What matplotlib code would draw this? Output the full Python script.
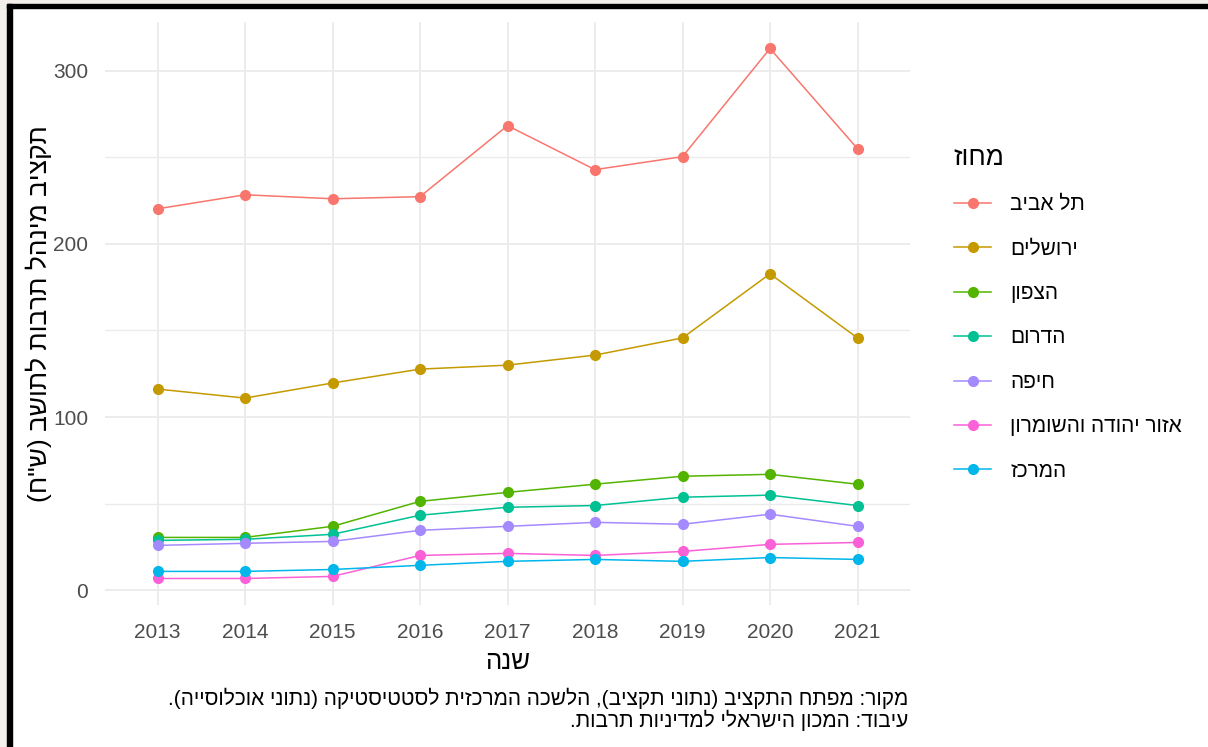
import matplotlib
matplotlib.use("Agg")
import matplotlib.pyplot as plt
from matplotlib.patches import Rectangle

plt.rcParams["font.family"] = ["Liberation Sans", "DejaVu Sans"]

years = [2013, 2014, 2015, 2016, 2017, 2018, 2019, 2020, 2021]

tel_aviv = [220.2, 228.3, 226.0, 227.2, 268.2, 242.8, 250.3, 312.7, 254.9]
jerusalem = [116.2, 111.0, 119.7, 127.7, 130.0, 135.8, 145.7, 182.7, 145.7]
north = [30.6, 30.6, 37.0, 51.4, 56.6, 61.3, 65.9, 67.0, 61.3]
south = [28.9, 29.5, 32.4, 43.4, 48.0, 49.0, 53.8, 55.0, 49.0]
haifa = [26.0, 27.2, 28.3, 34.7, 37.0, 39.3, 38.2, 44.0, 37.0]
judea_samaria = [6.9, 6.9, 8.1, 20.2, 21.4, 20.2, 22.5, 26.6, 27.7]
center = [11.0, 11.0, 12.1, 14.5, 16.8, 17.9, 16.8, 19.0, 17.9]

district_names = ["תל אביב", "ירושלים", "הצפון", "הדרום", "חיפה",
                  "אזור יהודה והשומרון", "המרכז"]
district_values = [tel_aviv, jerusalem, north, south, haifa, judea_samaria, center]
district_colors = ["#F8766D", "#C49A00", "#53B400", "#00C094", "#A58AFF",
                   "#FB61D7", "#00B6EB"]

y_ticks = [0, 100, 200, 300]
y_minor = [50, 150, 250]

x_title = "שנה"
y_title = 'תקציב מינהל תרבות לתושב (ש"ח)'
legend_title = "מחוז"
caption_lines = [
    "מקור: מפתח התקציב (נתוני תקציב), הלשכה המרכזית לסטטיסטיקה (נתוני אוכלוסייה).",
    "עיבוד: המכון הישראלי למדיניות תרבות.",
]


def rtl(text):
    # matplotlib has no bidi support: flip to visual order, mirror brackets
    return text[::-1].translate(str.maketrans("()", ")("))


fig = plt.figure(figsize=(12.08, 7.47), dpi=100)
fig.patch.set_facecolor("white")

# screenshot frame: beige margin + black border on top and left
fig.patches.append(Rectangle((0, 743), 1208, 4, transform=None, color="#F3EFEB"))
fig.patches.append(Rectangle((0, 0), 7, 747, transform=None, color="#F3EFEB"))
fig.patches.append(Rectangle((7, 739), 1201, 4, transform=None, color="black"))
fig.patches.append(Rectangle((7, 0), 5, 743, transform=None, color="black"))

ax = fig.add_axes([105 / 1208, 1 - 605 / 747, 805 / 1208, 583 / 747])
ax.set_facecolor("white")

for name, values, color in zip(district_names, district_values, district_colors):
    ax.plot(years, values, color=color, linewidth=1.1, marker="o",
            markersize=7, label=rtl(name), zorder=3)

lo = min(min(v) for v in district_values)
hi = max(max(v) for v in district_values)
pad = 0.05 * (hi - lo)
ax.set_ylim(lo - pad, hi + pad)
ax.set_xlim(years[0] - 0.6, years[-1] + 0.6)

ax.set_xticks(years)
ax.set_xticklabels([str(y) for y in years])
ax.set_yticks(y_ticks)
ax.set_yticks(y_minor, minor=True)
ax.grid(True, which="major", color="#EBEBEB", linewidth=1.3)
ax.grid(True, which="minor", axis="y", color="#EBEBEB", linewidth=1.0)
ax.set_axisbelow(True)
for s in ax.spines.values():
    s.set_visible(False)
ax.tick_params(which="both", length=0, labelsize=15, labelcolor="#4D4D4D")
ax.tick_params(axis="x", pad=13)
ax.tick_params(axis="y", pad=12)

ax.set_xlabel(rtl(x_title), fontsize=18.5, labelpad=6)
ax.set_ylabel(rtl(y_title), fontsize=19, labelpad=1)

leg = ax.legend(title=rtl(legend_title), loc="upper left",
                bbox_to_anchor=(935 / 1208, 1 - 127 / 747),
                bbox_transform=fig.transFigure, frameon=False,
                fontsize=15, title_fontsize=19, handlelength=1.8,
                labelspacing=1.22, handletextpad=0.9, alignment="left")

fig.text(908 / 1208, 1 - 698 / 747, rtl(caption_lines[0]), ha="right",
         va="center", fontsize=15)
fig.text(908 / 1208, 1 - 720 / 747, rtl(caption_lines[1]), ha="right",
         va="center", fontsize=15)

fig.savefig("out.png", dpi=100)
